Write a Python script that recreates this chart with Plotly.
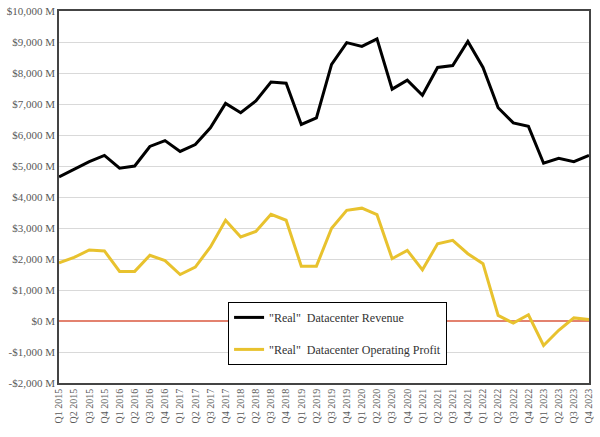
import plotly.graph_objects as go

quarters = [f"Q{q} {y}" for y in range(2015, 2024) for q in range(1, 5)]

revenue = [4650, 4900, 5140, 5340, 4930, 5000, 5630, 5820, 5470, 5690,
           6230, 7020, 6720, 7100, 7710, 7670, 6340, 6550, 8280, 8980,
           8860, 9100, 7480, 7770, 7280, 8180, 8240, 9020, 8180, 6880,
           6390, 6280, 5090, 5250, 5140, 5340]

profit = [1880, 2050, 2290, 2260, 1600, 1600, 2120, 1950, 1500, 1740,
          2390, 3250, 2710, 2890, 3440, 3250, 1770, 1770, 2990, 3570,
          3640, 3430, 2010, 2280, 1650, 2490, 2600, 2170, 1850, 180,
          -70, 200, -790, -300, 100, 50]

y_ticks = list(range(-2000, 10001, 1000))
y_labels = [("-" if v < 0 else "") + f"${abs(v):,} M" for v in y_ticks]

fig = go.Figure()
fig.add_trace(go.Scatter(x=quarters, y=revenue, mode="lines",
                         name='"Real"  Datacenter Revenue',
                         line=dict(color="#000000", width=3),
                         legendgroup="a"))
fig.add_trace(go.Scatter(x=quarters, y=profit, mode="lines",
                         name='"Real"  Datacenter Operating Profit',
                         line=dict(color="#e8c22e", width=3),
                         legendgroup="b"))

font_family = "Liberation Serif"
fig.update_layout(
    width=600, height=437,
    margin=dict(l=59, r=11, t=11, b=54, autoexpand=False),
    paper_bgcolor="white", plot_bgcolor="white",
    font=dict(family=font_family, color="#595959"),
    showlegend=True,
    legend=dict(x=0.319, y=0.218, xanchor="left", yanchor="top",
                bordercolor="#000000", borderwidth=1, bgcolor="white",
                font=dict(size=12, color="#333333", family=font_family),
                tracegroupgap=13, itemwidth=30),
    xaxis=dict(type="category", tickangle=-90, tickfont=dict(size=10, color="#595959"),
               showgrid=False, showline=True, linecolor="#444444", linewidth=1.5,
               mirror=True, ticks="", ticklen=0, automargin=False),
    yaxis=dict(range=[-2000, 10000], tickvals=y_ticks, ticktext=y_labels,
               tickfont=dict(size=11, color="#595959"),
               showgrid=True, gridcolor="#d9d9d9", gridwidth=1,
               zeroline=True, zerolinecolor="#e3826f", zerolinewidth=1.5,
               showline=True, linecolor="#444444", linewidth=1.5, mirror=True,
               ticks="", automargin=False),
)

fig.write_html("out.html", config={"displayModeBar": False},
               post_script="document.body.style.margin='0';document.body.style.padding='0';")
